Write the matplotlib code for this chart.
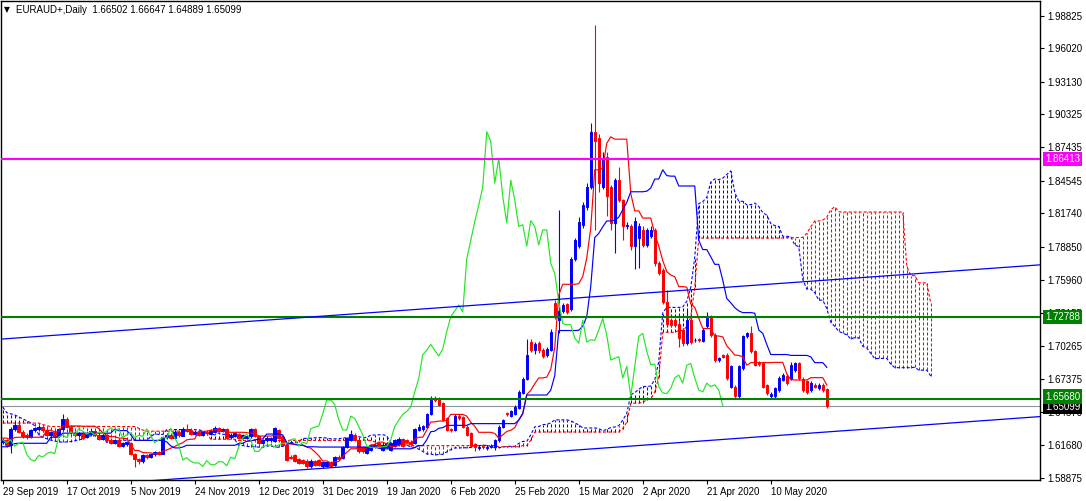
import numpy as np
import matplotlib
matplotlib.use("Agg")
import matplotlib.pyplot as plt
from matplotlib import transforms
from matplotlib.collections import LineCollection

plt.rcParams['lines.scale_dashes'] = False
plt.rcParams['font.family'] = ['Liberation Sans', 'DejaVu Sans']

# ---------------- data ----------------
symbol = "EURAUD+,Daily"

# hidden history before the first visible bar (only feeds the Ichimoku lines)
pre_high = [1.6280, 1.6265, 1.6240, 1.6220, 1.6200, 1.6180, 1.6170, 1.6160, 1.6150, 1.6145,
            1.6140, 1.6138, 1.6150, 1.6160, 1.6175, 1.6170, 1.6160, 1.6165, 1.6180, 1.6190,
            1.6200, 1.6215, 1.6230, 1.6250, 1.6270, 1.6290, 1.6320, 1.6380, 1.6420, 1.6460,
            1.6500, 1.6540, 1.6580, 1.6620, 1.6660, 1.6630, 1.6600, 1.6580, 1.6560, 1.6550,
            1.6540, 1.6550, 1.6560, 1.6570, 1.6580, 1.6575, 1.6570, 1.6580, 1.6575, 1.6565,
            1.6560, 1.6550, 1.6540, 1.6310, 1.6300, 1.6290, 1.6270, 1.6240, 1.6210, 1.6180,
            1.6150, 1.6130, 1.6110, 1.6100, 1.6090, 1.6150, 1.6180, 1.6200, 1.6210, 1.6220,
            1.6250, 1.6280, 1.6300, 1.6310, 1.6300, 1.6280, 1.6250, 1.6230]
pre_low = [1.6190, 1.6170, 1.6150, 1.6130, 1.6110, 1.6095, 1.6080, 1.6075, 1.6070, 1.6065,
           1.6062, 1.6060, 1.6060, 1.6075, 1.6090, 1.6085, 1.6070, 1.6080, 1.6095, 1.6105,
           1.6110, 1.6120, 1.6135, 1.6150, 1.6170, 1.6200, 1.6230, 1.6300, 1.6320, 1.6350,
           1.6380, 1.6420, 1.6460, 1.6500, 1.6540, 1.6520, 1.6490, 1.6460, 1.6440, 1.6430,
           1.6420, 1.6440, 1.6450, 1.6460, 1.6470, 1.6465, 1.6460, 1.6465, 1.6460, 1.6455,
           1.6450, 1.6450, 1.6460, 1.6280, 1.6260, 1.6240, 1.6210, 1.6180, 1.6150, 1.6120,
           1.6090, 1.6060, 1.6035, 1.6015, 1.6000, 1.6110, 1.6120, 1.6130, 1.6140, 1.6150,
           1.6160, 1.6180, 1.6200, 1.6200, 1.6180, 1.6170, 1.6160, 1.6150]

opens = [1.6195, 1.6215, 1.6170, 1.6310, 1.6345, 1.6285, 1.6255, 1.6240, 1.6300, 1.6305,
         1.6330, 1.6300, 1.6255, 1.6285, 1.6245, 1.6310, 1.6395, 1.6330, 1.6275, 1.6255,
         1.6270, 1.6240, 1.6265, 1.6290, 1.6260, 1.6225, 1.6255, 1.6215, 1.6190, 1.6215,
         1.6165, 1.6180, 1.6190, 1.6095, 1.6045, 1.6030, 1.6080, 1.6065, 1.6090, 1.6110,
         1.6095, 1.6240, 1.6260, 1.6235, 1.6285, 1.6250, 1.6310, 1.6300, 1.6265, 1.6285,
         1.6260, 1.6285, 1.6265, 1.6285, 1.6315, 1.6290, 1.6305, 1.6240, 1.6250, 1.6265,
         1.6235, 1.6230, 1.6245, 1.6305, 1.6250, 1.6190, 1.6210, 1.6210, 1.6205, 1.6300,
         1.6240, 1.6170, 1.6070, 1.6080, 1.6045, 1.6040, 1.6035, 1.5985, 1.6030, 1.6040,
         1.5985, 1.5990, 1.6025, 1.6000, 1.6065, 1.6060, 1.6150, 1.6215, 1.6260, 1.6215,
         1.6150, 1.6100, 1.6130, 1.6155, 1.6185, 1.6130, 1.6155, 1.6130, 1.6160, 1.6175,
         1.6220, 1.6210, 1.6200, 1.6185, 1.6300, 1.6305, 1.6330, 1.6440, 1.6575, 1.6570,
         1.6530, 1.6400, 1.6310, 1.6300, 1.6425, 1.6410, 1.6330, 1.6270, 1.6175, 1.6140,
         1.6160, 1.6140, 1.6150, 1.6150, 1.6215, 1.6325, 1.6445, 1.6425, 1.6440, 1.6490,
         1.6620, 1.6745, 1.7060, 1.6990, 1.7050, 1.6990, 1.6950, 1.6995, 1.7395, 1.7250,
         1.7330, 1.7390, 1.7350, 1.7775, 1.7890, 1.8075, 1.8230, 1.8400, 1.8880, 1.8825,
         1.8405, 1.8660, 1.8400, 1.8090, 1.8460, 1.8290, 1.8060, 1.8060, 1.7890, 1.7960,
         1.8030, 1.7900, 1.7975, 1.8030, 1.7740, 1.7685, 1.7410, 1.7250, 1.7250, 1.7220,
         1.7165, 1.7050, 1.7250, 1.7075, 1.7085, 1.7070, 1.7195, 1.7280, 1.7120, 1.6905,
         1.6950, 1.6950, 1.6675, 1.6675, 1.6590, 1.6835, 1.7110, 1.7140, 1.6980, 1.6880,
         1.6876, 1.6690, 1.6590, 1.6590, 1.6645, 1.6735, 1.6765, 1.6745, 1.6820, 1.6875,
         1.6745, 1.6720, 1.6645, 1.6690, 1.6665, 1.6690, 1.66502]
highs = [1.6230, 1.6225, 1.6325, 1.6365, 1.6370, 1.6300, 1.6275, 1.6310, 1.6330, 1.6345,
         1.6340, 1.6315, 1.6295, 1.6300, 1.6320, 1.6440, 1.6415, 1.6345, 1.6290, 1.6285,
         1.6285, 1.6280, 1.6310, 1.6300, 1.6275, 1.6265, 1.6265, 1.6230, 1.6225, 1.6225,
         1.6195, 1.6205, 1.6200, 1.6100, 1.6060, 1.6090, 1.6095, 1.6105, 1.6120, 1.6120,
         1.6250, 1.6275, 1.6270, 1.6300, 1.6295, 1.6325, 1.6355, 1.6315, 1.6295, 1.6295,
         1.6290, 1.6300, 1.6305, 1.6335, 1.6325, 1.6320, 1.6315, 1.6275, 1.6285, 1.6275,
         1.6265, 1.6255, 1.6320, 1.6315, 1.6260, 1.6225, 1.6245, 1.6240, 1.6330, 1.6310,
         1.6250, 1.6180, 1.6080, 1.6090, 1.6055, 1.6050, 1.6045, 1.6045, 1.6040, 1.6050,
         1.6035, 1.6035, 1.6035, 1.6075, 1.6080, 1.6165, 1.6240, 1.6300, 1.6270, 1.6225,
         1.6160, 1.6165, 1.6180, 1.6185, 1.6195, 1.6180, 1.6195, 1.6195, 1.6225, 1.6240,
         1.6235, 1.6220, 1.6210, 1.6320, 1.6355, 1.6345, 1.6450, 1.6590, 1.6590, 1.6585,
         1.6545, 1.6410, 1.6320, 1.6440, 1.6440, 1.6420, 1.6340, 1.6280, 1.6190, 1.6170,
         1.6175, 1.6170, 1.6175, 1.6225, 1.6340, 1.6395, 1.6455, 1.6470, 1.6515, 1.6650,
         1.6760, 1.7085, 1.7085, 1.7060, 1.7070, 1.7010, 1.7020, 1.7170, 1.7420, 1.8200,
         1.7400, 1.7400, 1.7800, 1.7960, 1.8140, 1.8270, 1.8435, 1.8955, 1.9800, 1.8860,
         1.8700, 1.8700, 1.8420, 1.8480, 1.8575, 1.8300, 1.8100, 1.8080, 1.8140, 1.8090,
         1.8060, 1.8050, 1.8060, 1.8050, 1.7760, 1.7700, 1.7510, 1.7270, 1.7265, 1.7240,
         1.7180, 1.7335, 1.7280, 1.7095, 1.7095, 1.7180, 1.7320, 1.7295, 1.7135, 1.6935,
         1.6960, 1.6965, 1.6860, 1.6690, 1.6860, 1.7125, 1.7150, 1.7195, 1.6995, 1.6895,
         1.6890, 1.6700, 1.6630, 1.6675, 1.6765, 1.6790, 1.6780, 1.6890, 1.6890, 1.6890,
         1.6760, 1.6735, 1.6720, 1.6705, 1.6705, 1.6705, 1.66647]
lows = [1.6180, 1.6150, 1.6105, 1.6295, 1.6270, 1.6235, 1.6225, 1.6230, 1.6285, 1.6290,
        1.6285, 1.6250, 1.6235, 1.6230, 1.6240, 1.6300, 1.6320, 1.6255, 1.6240, 1.6240,
        1.6225, 1.6230, 1.6255, 1.6245, 1.6210, 1.6210, 1.6200, 1.6175, 1.6180, 1.6150,
        1.6150, 1.6165, 1.6080, 1.5980, 1.6010, 1.6015, 1.6050, 1.6055, 1.6075, 1.6085,
        1.6090, 1.6225, 1.6220, 1.6225, 1.6240, 1.6245, 1.6280, 1.6255, 1.6255, 1.6250,
        1.6250, 1.6260, 1.6255, 1.6275, 1.6285, 1.6280, 1.6225, 1.6230, 1.6240, 1.6225,
        1.6225, 1.6220, 1.6235, 1.6240, 1.6175, 1.6180, 1.6200, 1.6200, 1.6195, 1.6220,
        1.6160, 1.6030, 1.6050, 1.6020, 1.6005, 1.6005, 1.5975, 1.5975, 1.5990, 1.5990,
        1.5975, 1.5980, 1.5980, 1.5990, 1.6040, 1.6050, 1.6140, 1.6205, 1.6205, 1.6105,
        1.6100, 1.6090, 1.6120, 1.6145, 1.6145, 1.6120, 1.6145, 1.6120, 1.6150, 1.6165,
        1.6150, 1.6190, 1.6165, 1.6175, 1.6290, 1.6295, 1.6320, 1.6430, 1.6545, 1.6505,
        1.6380, 1.6290, 1.6280, 1.6290, 1.6390, 1.6320, 1.6250, 1.6150, 1.6120, 1.6130,
        1.6135, 1.6125, 1.6140, 1.6130, 1.6200, 1.6315, 1.6425, 1.6415, 1.6430, 1.6480,
        1.6610, 1.6735, 1.6975, 1.6960, 1.6970, 1.6920, 1.6930, 1.6985, 1.7260, 1.7140,
        1.7310, 1.7300, 1.7330, 1.7760, 1.7870, 1.8050, 1.8200, 1.8380, 1.8030, 1.8360,
        1.8380, 1.8150, 1.8030, 1.7830, 1.8270, 1.7945, 1.8040, 1.7855, 1.7690, 1.7700,
        1.7880, 1.7880, 1.7960, 1.7720, 1.7640, 1.7390, 1.7200, 1.7190, 1.7195, 1.7020,
        1.7030, 1.7035, 1.7040, 1.7060, 1.7060, 1.7060, 1.7180, 1.7100, 1.6890, 1.6890,
        1.6920, 1.6735, 1.6660, 1.6575, 1.6570, 1.6820, 1.7095, 1.6965, 1.6850, 1.6855,
        1.6660, 1.6600, 1.6575, 1.6575, 1.6630, 1.6720, 1.6690, 1.6730, 1.6805, 1.6735,
        1.6630, 1.6615, 1.6630, 1.6660, 1.6650, 1.6630, 1.64889]
closes = [1.6215, 1.6170, 1.6310, 1.6345, 1.6285, 1.6250, 1.6240, 1.6300, 1.6315, 1.6330,
          1.6300, 1.6260, 1.6280, 1.6245, 1.6310, 1.6395, 1.6330, 1.6270, 1.6255, 1.6270,
          1.6235, 1.6265, 1.6290, 1.6260, 1.6225, 1.6255, 1.6215, 1.6190, 1.6215, 1.6160,
          1.6185, 1.6195, 1.6090, 1.6045, 1.6030, 1.6080, 1.6065, 1.6095, 1.6110, 1.6095,
          1.6240, 1.6255, 1.6235, 1.6285, 1.6255, 1.6310, 1.6290, 1.6265, 1.6285, 1.6260,
          1.6280, 1.6270, 1.6290, 1.6320, 1.6295, 1.6310, 1.6235, 1.6260, 1.6275, 1.6235,
          1.6255, 1.6245, 1.6310, 1.6250, 1.6190, 1.6215, 1.6235, 1.6230, 1.6315, 1.6230,
          1.6170, 1.6040, 1.6060, 1.6030, 1.6015, 1.6015, 1.5985, 1.6035, 1.6000, 1.6000,
          1.6025, 1.6025, 1.5990, 1.6065, 1.6050, 1.6155, 1.6230, 1.6265, 1.6215, 1.6115,
          1.6115, 1.6155, 1.6170, 1.6170, 1.6155, 1.6170, 1.6185, 1.6185, 1.6215, 1.6225,
          1.6160, 1.6195, 1.6180, 1.6310, 1.6325, 1.6335, 1.6440, 1.6560, 1.6560, 1.6520,
          1.6390, 1.6300, 1.6300, 1.6420, 1.6400, 1.6330, 1.6260, 1.6160, 1.6150, 1.6150,
          1.6150, 1.6155, 1.6160, 1.6215, 1.6330, 1.6385, 1.6435, 1.6460, 1.6500, 1.6630,
          1.6745, 1.6950, 1.6990, 1.7040, 1.6990, 1.6940, 1.7000, 1.7150, 1.7280, 1.7330,
          1.7380, 1.7320, 1.7780, 1.7940, 1.8100, 1.8245, 1.8400, 1.8880, 1.8795, 1.8435,
          1.8650, 1.8320, 1.8090, 1.8460, 1.8290, 1.8060, 1.8075, 1.7890, 1.8110, 1.8060,
          1.7900, 1.8030, 1.8030, 1.7740, 1.7655, 1.7410, 1.7220, 1.7210, 1.7210, 1.7095,
          1.7050, 1.7250, 1.7060, 1.7080, 1.7075, 1.7165, 1.7265, 1.7120, 1.6905, 1.6920,
          1.6935, 1.6750, 1.6850, 1.6590, 1.6850, 1.7110, 1.7135, 1.6980, 1.6865, 1.6870,
          1.6675, 1.6620, 1.6615, 1.6660, 1.6750, 1.6775, 1.6705, 1.6860, 1.6875, 1.6750,
          1.6645, 1.6630, 1.6705, 1.6675, 1.6690, 1.6645, 1.65099]

date_labels = ["29 Sep 2019", "17 Oct 2019", "5 Nov 2019", "24 Nov 2019", "12 Dec 2019",
               "31 Dec 2019", "19 Jan 2020", "6 Feb 2020", "25 Feb 2020", "15 Mar 2020",
               "2 Apr 2020", "21 Apr 2020", "10 May 2020"]
bars_per_label = 16
price_ticks = [1.98825, 1.96020, 1.93130, 1.90325, 1.87435, 1.84545, 1.81740, 1.78850,
               1.75960, 1.73155, 1.70265, 1.67375, 1.64570, 1.61680, 1.58875]

level_magenta = 1.86413
level_green_hi = 1.72788
level_green_lo = 1.65680
bid_price = closes[-1]

# trend lines: (bar index, price) anchors
trend_upper = [(-0.425, 1.7086), (259.3, 1.7728)]
trend_lower = [(30.0, 1.5844), (259.3, 1.6416)]

# Ichimoku periods
p_tenkan, p_kijun, p_senkou = 9, 26, 52

# ---------------- indicators ----------------
H = np.array(pre_high + highs)
L = np.array(pre_low + lows)
n_pre = len(pre_high)
n = len(closes)


def midline(period):
    out = np.full(len(H), np.nan)
    for j in range(period - 1, len(H)):
        out[j] = (H[j - period + 1:j + 1].max() + L[j - period + 1:j + 1].min()) / 2
    return out


tenkan_all = midline(p_tenkan)
kijun_all = midline(p_kijun)
senkou_b_all = midline(p_senkou)
senkou_a_all = (tenkan_all + kijun_all) / 2

xb = np.arange(n)
tenkan = tenkan_all[n_pre:]
kijun = kijun_all[n_pre:]
xs = np.arange(n + p_kijun)
span_a = senkou_a_all[xs + n_pre - p_kijun]
span_b = senkou_b_all[xs + n_pre - p_kijun]
chik_x = np.arange(n - p_kijun)
chik_y = np.array(closes[p_kijun:])

O = np.array(opens); Hv = np.array(highs); Lv = np.array(lows); C = np.array(closes)

# ---------------- figure ----------------
W, Hpx = 1086, 501
fig = plt.figure(figsize=(W / 100, Hpx / 100), dpi=100)
fig.patch.set_facecolor('white')
ax = fig.add_axes([1 / W, 21 / Hpx, 1039 / W, 479 / Hpx])
ax.set_facecolor('white')
ax.set_xlim(-0.425, 259.3)
ax.set_ylim(1.58676, 2.00096)

BLUE = '#0000ff'
RED = '#ff0000'
dot = (0, (2.2, 1.4))

# cloud hatch
segs, cols = [], []
for t in xs:
    a, b = span_a[t], span_b[t]
    if np.isnan(a) or np.isnan(b):
        continue
    segs.append([(t, min(a, b)), (t, max(a, b))])
    cols.append(BLUE if a > b else RED)
ax.add_collection(LineCollection(segs, colors=cols, linewidths=0.75, linestyles=[dot], zorder=1))
ax.plot(xs, span_a, color=BLUE, lw=0.8, ls=dot, zorder=1.5)
ax.plot(xs, span_b, color=RED, lw=0.8, ls=dot, zorder=1.5)

# candles
up = C >= O
ccol = np.where(up, BLUE, RED)
ax.vlines(xb, Lv, Hv, colors=ccol, lw=0.8, zorder=3)
ax.bar(xb, np.abs(C - O), bottom=np.minimum(O, C), width=0.62, color=ccol,
       edgecolor=ccol, linewidth=0.7, zorder=3.2)

# indicator lines
ax.plot(xb, tenkan, color=RED, lw=0.85, zorder=4)
ax.plot(xb, kijun, color=BLUE, lw=0.85, zorder=4)
ax.plot(chik_x, chik_y, color='#22e622', lw=0.85, zorder=4)

# horizontal levels and trend lines
ax.axhline(level_magenta, color='#ff00ff', lw=1.5, zorder=5)
ax.axhline(level_green_hi, color='#008000', lw=1.5, zorder=5)
ax.axhline(level_green_lo, color='#008000', lw=1.5, zorder=5)
ax.axhline(bid_price, color='#8a939c', lw=0.8, zorder=2)
for tl in (trend_upper, trend_lower):
    ax.plot([tl[0][0], tl[1][0]], [tl[0][1], tl[1][1]], color=BLUE, lw=0.9, zorder=5)

# axes styling
for s in ax.spines.values():
    s.set_color('black')
    s.set_linewidth(1)
ax.yaxis.tick_right()
ax.set_yticks(price_ticks)
ax.set_yticklabels([f"{v:.5f}" for v in price_ticks])
ax.tick_params(axis='y', direction='out', length=3, width=0.8, pad=2, labelsize=7,
               colors='black', right=True, left=False)
ax.set_xticks(np.arange(len(date_labels)) * bars_per_label)
ax.set_xticklabels(date_labels, ha='left')
ax.tick_params(axis='x', direction='out', length=3, width=0.8, pad=2, labelsize=7,
               colors='black')

# price boxes on right (bid box first so the level boxes sit on top of it)
base = transforms.blended_transform_factory(ax.transAxes, ax.transData)
boxes = [(bid_price, 'black', -1.0), (level_green_lo, '#008000', 2.5),
         (level_green_hi, '#008000', 0.0), (level_magenta, '#ff00ff', 0.0)]
for k, (val, col, dy) in enumerate(boxes):
    tr = transforms.offset_copy(base, fig=fig, x=5, y=dy, units='dots')
    ax.text(1.0, val, f"{val:.5f}", transform=tr, ha='left', va='center', fontsize=7,
            color='white', clip_on=False, zorder=10 + k,
            bbox=dict(boxstyle='square,pad=0.22', fc=col, ec='none'))

# title
fig.text(4 / W, 1 - 10 / Hpx, "\u25bc", fontsize=5.5, color='black', va='center', ha='left',
         family=['DejaVu Sans'])
fig.text(16 / W, 1 - 10 / Hpx,
         f"{symbol}  {opens[-1]:.5f} {highs[-1]:.5f} {lows[-1]:.5f} {closes[-1]:.5f}",
         fontsize=7, color='black', va='center', ha='left')

fig.savefig("out.png", dpi=100, facecolor='white')
